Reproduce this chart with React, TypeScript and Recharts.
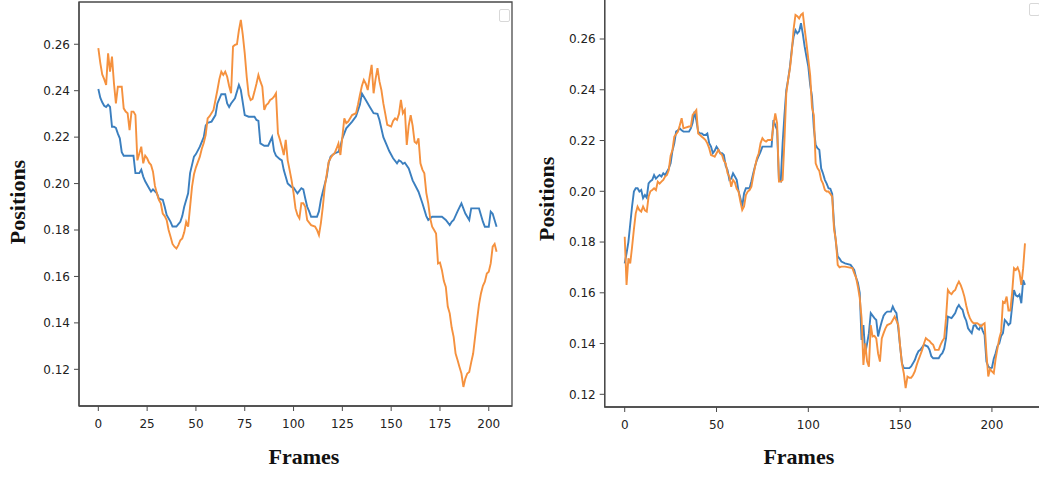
import { Label, Line, LineChart, ReferenceArea, XAxis, YAxis } from "recharts";

type Pt = [number, number];

const leftFramesTicks = [0, 25, 50, 75, 100, 125, 150, 175, 200];
const rightFramesTicks = [0, 50, 100, 150, 200];
const positionTicks = [0.12, 0.14, 0.16, 0.18, 0.2, 0.22, 0.24, 0.26];

// left panel, [frame, position]
const leftBlue: Pt[] = [
  [0, 0.2407], [1, 0.237], [2, 0.235], [3, 0.2335], [4, 0.233], [5, 0.234], [6, 0.233], [7, 0.2245],
  [8, 0.2245], [9, 0.224], [10, 0.2215], [11, 0.2195], [12, 0.2135], [13, 0.212], [15, 0.212], [18, 0.212],
  [19, 0.2045], [21, 0.2045], [22, 0.206], [23, 0.203], [24, 0.201], [26, 0.198], [27, 0.1965], [28, 0.1975],
  [30, 0.1958], [31, 0.1935], [33, 0.193], [34, 0.19], [35, 0.1865], [37, 0.1835], [38, 0.1815], [40, 0.1815],
  [41, 0.1825], [42, 0.1835], [43, 0.186], [44, 0.19], [46, 0.1958], [47, 0.2045], [49, 0.2116], [50, 0.2127],
  [52, 0.2159], [54, 0.22], [55, 0.225], [56, 0.2262], [58, 0.2267], [60, 0.2295], [61, 0.2345], [63, 0.2385],
  [65, 0.2385], [66, 0.2345], [67, 0.233], [68, 0.2345], [70, 0.2367], [72, 0.2425], [73, 0.2403], [75, 0.2295],
  [77, 0.2288], [80, 0.2288], [81, 0.2274], [82, 0.227], [83, 0.2173], [85, 0.2163], [87, 0.2163], [89, 0.22],
  [90, 0.214], [91, 0.212], [93, 0.2105], [94, 0.21], [95, 0.2058], [97, 0.2], [99, 0.1985], [100, 0.1983],
  [101, 0.197], [102, 0.1958], [104, 0.198], [105, 0.1975], [106, 0.1936], [107, 0.19], [108, 0.188], [109, 0.1857],
  [112, 0.1857], [113, 0.188], [114, 0.193], [115, 0.1965], [117, 0.203], [118, 0.209], [119, 0.2116], [121, 0.213],
  [123, 0.2137], [124, 0.216], [125, 0.2195], [127, 0.2238], [130, 0.2267], [132, 0.229], [134, 0.234], [135, 0.2388],
  [137, 0.236], [139, 0.2331], [141, 0.2303], [143, 0.23], [144, 0.2274], [146, 0.22], [148, 0.216], [149, 0.214],
  [151, 0.2109], [153, 0.2087], [154, 0.21], [155, 0.2095], [156, 0.2085], [157, 0.209], [159, 0.2065], [161, 0.2014],
  [164, 0.1965], [166, 0.1915], [168, 0.186], [169, 0.1843], [171, 0.1857], [176, 0.1857], [178, 0.1843], [180, 0.1821],
  [181, 0.1835], [182, 0.1843], [184, 0.188], [186, 0.1915], [188, 0.1871], [190, 0.1843], [191, 0.1893], [195, 0.1893],
  [197, 0.1836], [198, 0.1814], [200, 0.1814], [201, 0.1879], [202, 0.187], [204, 0.1814],
];

const leftOrange: Pt[] = [
  [0, 0.2583], [1, 0.252], [2, 0.247], [3, 0.245], [4, 0.2425], [5, 0.2561], [6, 0.2482], [7, 0.2547],
  [8, 0.2432], [9, 0.2345], [10, 0.2417], [12, 0.2417], [13, 0.2324], [14, 0.231], [15, 0.2303], [16, 0.223],
  [17, 0.231], [18, 0.231], [19, 0.2295], [20, 0.21], [21, 0.213], [22, 0.2159], [23, 0.2087], [24, 0.212],
  [25, 0.2109], [26, 0.209], [27, 0.208], [28, 0.2051], [29, 0.199], [30, 0.1958], [31, 0.193], [32, 0.1915],
  [33, 0.1871], [34, 0.186], [35, 0.1843], [36, 0.18], [37, 0.1771], [38, 0.174], [39, 0.1728], [40, 0.172],
  [41, 0.1735], [42, 0.1756], [43, 0.1764], [44, 0.179], [45, 0.1835], [46, 0.1814], [47, 0.19], [48, 0.1987],
  [49, 0.204], [50, 0.207], [52, 0.2116], [53, 0.215], [54, 0.2175], [55, 0.221], [56, 0.2281], [57, 0.229],
  [59, 0.2317], [60, 0.236], [61, 0.2403], [62, 0.245], [63, 0.2482], [64, 0.2468], [65, 0.2482], [66, 0.246],
  [67, 0.242], [68, 0.2389], [69, 0.259], [70, 0.2597], [71, 0.26], [72, 0.266], [73, 0.2705], [74, 0.264],
  [75, 0.2561], [76, 0.246], [77, 0.2382], [78, 0.236], [79, 0.2365], [80, 0.2396], [81, 0.243], [82, 0.2468],
  [83, 0.244], [84, 0.2417], [85, 0.2317], [86, 0.2338], [87, 0.2345], [88, 0.236], [89, 0.2365], [90, 0.2374],
  [91, 0.2389], [92, 0.2216], [93, 0.219], [94, 0.2159], [95, 0.2123], [96, 0.2188], [97, 0.21], [98, 0.2058],
  [99, 0.2014], [100, 0.196], [101, 0.1893], [102, 0.1865], [103, 0.185], [104, 0.1915], [105, 0.1915], [106, 0.19],
  [107, 0.1843], [109, 0.1821], [111, 0.1815], [112, 0.18], [113, 0.1778], [114, 0.183], [115, 0.19], [116, 0.1987],
  [117, 0.204], [118, 0.2094], [119, 0.211], [120, 0.2123], [121, 0.213], [122, 0.215], [123, 0.2173], [124, 0.2123],
  [125, 0.22], [126, 0.2281], [127, 0.226], [128, 0.2267], [130, 0.2295], [132, 0.2303], [133, 0.234], [134, 0.2382],
  [135, 0.242], [136, 0.2446], [137, 0.243], [138, 0.2403], [139, 0.246], [140, 0.2511], [141, 0.2389], [142, 0.245],
  [143, 0.2497], [144, 0.244], [145, 0.2403], [146, 0.2345], [147, 0.23], [148, 0.2253], [150, 0.2246], [151, 0.227],
  [152, 0.2281], [153, 0.2274], [154, 0.23], [155, 0.236], [156, 0.2303], [157, 0.2317], [158, 0.2166], [159, 0.225],
  [160, 0.2295], [161, 0.225], [162, 0.218], [163, 0.2173], [164, 0.2195], [165, 0.2087], [166, 0.206], [167, 0.2044],
  [168, 0.196], [169, 0.1915], [170, 0.185], [171, 0.1814], [172, 0.18], [173, 0.1785], [174, 0.1656], [175, 0.166],
  [176, 0.1627], [177, 0.158], [178, 0.1555], [179, 0.147], [180, 0.1441], [181, 0.138], [182, 0.134], [183, 0.1268],
  [184, 0.124], [185, 0.121], [186, 0.1182], [187, 0.1124], [188, 0.116], [189, 0.1182], [190, 0.1189], [191, 0.123],
  [192, 0.1268], [193, 0.134], [194, 0.1412], [195, 0.148], [196, 0.1527], [197, 0.156], [198, 0.1577], [199, 0.1613],
  [200, 0.162], [201, 0.1656], [202, 0.1728], [203, 0.174], [204, 0.1706],
];

// right panel, [frame, position]
const rightBlue: Pt[] = [
  [0, 0.1716], [1, 0.1756], [2, 0.18], [3, 0.187], [4, 0.194], [5, 0.1999], [6, 0.2012], [7, 0.2012],
  [8, 0.1999], [9, 0.2005], [10, 0.1973], [11, 0.1985], [12, 0.1975], [13, 0.2031], [14, 0.204], [15, 0.2045],
  [16, 0.2064], [17, 0.205], [18, 0.2058], [19, 0.2064], [20, 0.2058], [21, 0.2071], [22, 0.2064], [23, 0.2077],
  [24, 0.209], [25, 0.211], [26, 0.216], [27, 0.2189], [28, 0.2235], [29, 0.224], [30, 0.2248], [31, 0.224],
  [32, 0.2235], [35, 0.2235], [36, 0.2248], [37, 0.227], [38, 0.2314], [39, 0.228], [40, 0.2235], [41, 0.2228],
  [42, 0.2228], [43, 0.2222], [44, 0.2222], [45, 0.2228], [46, 0.219], [47, 0.2176], [48, 0.215], [49, 0.216],
  [50, 0.2176], [51, 0.2165], [52, 0.215], [53, 0.215], [54, 0.2143], [55, 0.21], [56, 0.2084], [57, 0.2045],
  [58, 0.205], [59, 0.2071], [60, 0.2058], [61, 0.2045], [62, 0.2], [63, 0.1973], [64, 0.194], [65, 0.1992],
  [66, 0.2012], [68, 0.2012], [69, 0.204], [70, 0.2071], [71, 0.21], [72, 0.2123], [73, 0.214], [74, 0.2156],
  [75, 0.2176], [80, 0.2176], [81, 0.2281], [82, 0.226], [83, 0.2242], [84, 0.2045], [85, 0.204], [86, 0.2189],
  [87, 0.23], [88, 0.2399], [89, 0.244], [90, 0.2491], [91, 0.256], [92, 0.261], [93, 0.2635], [94, 0.2622],
  [95, 0.263], [96, 0.2662], [97, 0.262], [98, 0.257], [99, 0.253], [100, 0.2491], [101, 0.242], [102, 0.2373],
  [103, 0.225], [104, 0.2182], [105, 0.217], [106, 0.2163], [107, 0.209], [108, 0.207], [109, 0.2045], [110, 0.203],
  [111, 0.2012], [112, 0.201], [113, 0.199], [114, 0.187], [115, 0.18], [116, 0.1743], [117, 0.1735], [118, 0.1723],
  [120, 0.1716], [123, 0.171], [124, 0.17], [125, 0.169], [126, 0.166], [127, 0.164], [128, 0.16], [129, 0.1414],
  [130, 0.1473], [131, 0.1362], [132, 0.14], [133, 0.1441], [134, 0.152], [136, 0.15], [137, 0.1493], [138, 0.1428],
  [139, 0.146], [140, 0.1487], [141, 0.151], [142, 0.152], [143, 0.1526], [145, 0.1526], [146, 0.1546], [147, 0.153],
  [148, 0.152], [149, 0.146], [150, 0.1388], [151, 0.1322], [152, 0.1303], [155, 0.1303], [156, 0.131], [157, 0.1322],
  [158, 0.1335], [159, 0.1355], [160, 0.137], [161, 0.1375], [162, 0.1385], [163, 0.1395], [165, 0.1388], [166, 0.1375],
  [167, 0.135], [168, 0.1342], [171, 0.1342], [172, 0.1355], [173, 0.1362], [174, 0.138], [175, 0.142], [176, 0.1506],
  [178, 0.15], [179, 0.151], [180, 0.152], [181, 0.154], [182, 0.1552], [183, 0.154], [184, 0.1533], [185, 0.1506],
  [186, 0.149], [187, 0.146], [188, 0.145], [189, 0.1441], [190, 0.147], [191, 0.1473], [192, 0.146], [193, 0.1455],
  [194, 0.147], [195, 0.145], [196, 0.1434], [197, 0.1329], [198, 0.131], [199, 0.1303], [200, 0.1305], [201, 0.134],
  [202, 0.1362], [203, 0.139], [204, 0.1401], [205, 0.143], [206, 0.1441], [207, 0.1493], [208, 0.1485], [209, 0.1473],
  [210, 0.148], [211, 0.1546], [212, 0.1611], [213, 0.159], [214, 0.1585], [215, 0.1593], [216, 0.1559], [217, 0.165],
  [218, 0.1631],
];

const rightOrange: Pt[] = [
  [0, 0.1821], [1, 0.1631], [2, 0.1736], [3, 0.1716], [4, 0.178], [5, 0.185], [6, 0.1913], [7, 0.194],
  [8, 0.1926], [9, 0.192], [10, 0.194], [11, 0.1925], [12, 0.192], [13, 0.1979], [14, 0.2], [15, 0.2005],
  [16, 0.2012], [17, 0.2005], [18, 0.2038], [19, 0.203], [20, 0.2038], [21, 0.2045], [22, 0.2058], [23, 0.2064],
  [24, 0.2084], [25, 0.214], [26, 0.2163], [27, 0.2215], [28, 0.2225], [29, 0.2235], [30, 0.226], [31, 0.2288],
  [32, 0.2248], [35, 0.2255], [36, 0.2255], [37, 0.2301], [38, 0.231], [39, 0.232], [40, 0.2228], [41, 0.2222],
  [42, 0.2215], [43, 0.2209], [44, 0.2202], [45, 0.2189], [46, 0.217], [47, 0.2143], [48, 0.214], [49, 0.2136],
  [50, 0.215], [51, 0.2163], [52, 0.215], [53, 0.2143], [54, 0.212], [55, 0.211], [56, 0.2071], [57, 0.2058],
  [58, 0.2018], [59, 0.2045], [60, 0.2035], [61, 0.201], [62, 0.1999], [63, 0.1959], [64, 0.1926], [65, 0.194],
  [66, 0.1985], [67, 0.1999], [68, 0.2005], [69, 0.2018], [70, 0.206], [71, 0.2097], [72, 0.213], [73, 0.215],
  [74, 0.219], [75, 0.2209], [76, 0.22], [77, 0.2196], [78, 0.2202], [80, 0.2202], [81, 0.226], [82, 0.2307],
  [83, 0.2268], [84, 0.2038], [85, 0.2038], [86, 0.2045], [87, 0.22], [88, 0.2386], [89, 0.244], [90, 0.2484],
  [91, 0.255], [92, 0.264], [93, 0.2695], [94, 0.269], [95, 0.2681], [96, 0.2695], [97, 0.2701], [98, 0.264],
  [99, 0.2583], [100, 0.252], [101, 0.2458], [102, 0.233], [103, 0.23], [104, 0.211], [105, 0.2091], [106, 0.208],
  [107, 0.2045], [108, 0.203], [109, 0.2005], [110, 0.1999], [111, 0.1999], [112, 0.199], [113, 0.1979], [114, 0.185],
  [115, 0.1808], [116, 0.171], [117, 0.17], [118, 0.1703], [120, 0.1703], [122, 0.17], [124, 0.1697], [125, 0.1677],
  [126, 0.166], [127, 0.1624], [128, 0.158], [129, 0.15], [130, 0.1316], [131, 0.1401], [132, 0.133], [133, 0.1309],
  [134, 0.1473], [135, 0.1428], [136, 0.143], [137, 0.142], [138, 0.136], [139, 0.1329], [140, 0.142], [141, 0.1441],
  [142, 0.146], [143, 0.1473], [145, 0.148], [146, 0.1493], [147, 0.1506], [148, 0.149], [149, 0.1473], [150, 0.139],
  [151, 0.132], [152, 0.1283], [153, 0.1224], [154, 0.127], [155, 0.1265], [156, 0.1265], [157, 0.1275], [158, 0.129],
  [159, 0.1315], [160, 0.1336], [161, 0.1355], [162, 0.1375], [163, 0.14], [164, 0.1421], [165, 0.1415], [166, 0.141],
  [167, 0.1401], [168, 0.1395], [169, 0.1375], [171, 0.1375], [172, 0.1395], [173, 0.141], [174, 0.1421], [175, 0.15],
  [176, 0.1611], [177, 0.16], [178, 0.1595], [179, 0.1605], [180, 0.1611], [181, 0.163], [182, 0.1644], [183, 0.163],
  [184, 0.161], [185, 0.1585], [186, 0.155], [187, 0.152], [188, 0.15], [189, 0.1487], [190, 0.148], [192, 0.148],
  [193, 0.1475], [194, 0.1467], [195, 0.1475], [196, 0.148], [197, 0.1362], [198, 0.127], [199, 0.13], [200, 0.129],
  [201, 0.1283], [202, 0.134], [203, 0.138], [204, 0.142], [205, 0.1447], [206, 0.1565], [207, 0.156], [208, 0.1585],
  [209, 0.153], [210, 0.153], [211, 0.16], [212, 0.1697], [213, 0.169], [214, 0.17], [215, 0.168], [216, 0.1631],
  [217, 0.1697], [218, 0.1795],
];

const BLUE = "#3b7fbf";
const ORANGE = "#f5913e";
const SPINE = "#4a4a4a";

const tickStyle = { fontFamily: "DejaVu Sans", fontSize: 12, fill: "#222" };
const axisTitleStyle = {
  fontFamily: "Liberation Serif",
  fontWeight: 700,
  fontSize: 22,
  fill: "#111",
};

const rows = (pts: Pt[]) => pts.map(([f, v]) => ({ f, v }));

type PanelProps = {
  blue: Pt[];
  orange: Pt[];
  xTicks: number[];
  xDomain: [number, number];
  yDomain: [number, number];
  width: number;
  height: number;
  top: number;
  right: number;
  yAxisWidth: number;
  xAxisHeight: number;
  xLabelDx: number;
  yLabelDx: number;
};

function Panel(p: PanelProps) {
  return (
    <LineChart width={p.width} height={p.height} margin={{ top: p.top, right: p.right, bottom: 0, left: 0 }}>
      <XAxis
        dataKey="f"
        type="number"
        domain={p.xDomain}
        allowDataOverflow
        ticks={p.xTicks}
        tick={tickStyle}
        tickSize={5}
        tickMargin={8}
        height={p.xAxisHeight}
        axisLine={{ stroke: SPINE, strokeWidth: 1.3 }}
        tickLine={{ stroke: SPINE }}
      >
        <Label value="Frames" position="insideBottom" offset={13} dx={p.xLabelDx} style={axisTitleStyle} />
      </XAxis>
      <YAxis
        type="number"
        domain={p.yDomain}
        allowDataOverflow
        ticks={positionTicks}
        tickFormatter={(v: number) => v.toFixed(2)}
        tick={tickStyle}
        tickSize={5}
        tickMargin={4}
        width={p.yAxisWidth}
        axisLine={{ stroke: SPINE, strokeWidth: 1.3 }}
        tickLine={{ stroke: SPINE }}
      >
        <Label value="Positions" angle={-90} position="center" dx={p.yLabelDx} dy={-2} style={axisTitleStyle} />
      </YAxis>
      <ReferenceArea
        x1={p.xDomain[0]}
        x2={p.xDomain[1]}
        y1={p.yDomain[0]}
        y2={p.yDomain[1]}
        fill="none"
        stroke={SPINE}
        strokeWidth={1.3}
        ifOverflow="visible"
      />
      <Line data={rows(p.blue)} dataKey="v" type="linear" stroke={BLUE} strokeWidth={1.9} dot={false} isAnimationActive={false} />
      <Line data={rows(p.orange)} dataKey="v" type="linear" stroke={ORANGE} strokeWidth={1.9} dot={false} isAnimationActive={false} />
    </LineChart>
  );
}

const legendBox = {
  position: "absolute" as const,
  width: 9,
  height: 11,
  border: "1px solid #d8d8d8",
  borderRadius: 2,
  background: "#fff",
};

export default function App() {
  return (
    <div style={{ position: "absolute", top: 0, left: 0, width: 1039, height: 477, overflow: "hidden", background: "#fff" }}>
      <div style={{ position: "absolute", left: 0, top: 0 }}>
        <Panel
          blue={leftBlue}
          orange={leftOrange}
          xTicks={leftFramesTicks}
          xDomain={[-9.9, 211.9]}
          yDomain={[0.1042, 0.2782]}
          width={520}
          height={477}
          top={2}
          right={8}
          yAxisWidth={79}
          xAxisHeight={71}
          xLabelDx={8.5}
          yLabelDx={-22}
        />
      </div>
      <div style={{ position: "absolute", left: 520, top: -10 }}>
        <Panel
          blue={rightBlue}
          orange={rightOrange}
          xTicks={rightFramesTicks}
          xDomain={[-10.9, 228.9]}
          yDomain={[0.115, 0.2775]}
          width={530}
          height={487}
          top={4.6}
          right={5}
          yAxisWidth={84.7}
          xAxisHeight={70}
          xLabelDx={-26}
          yLabelDx={-16.4}
        />
      </div>
      <div style={{ ...legendBox, left: 499, top: 9 }} />
      <div style={{ ...legendBox, left: 1029, top: 3 }} />
    </div>
  );
}
